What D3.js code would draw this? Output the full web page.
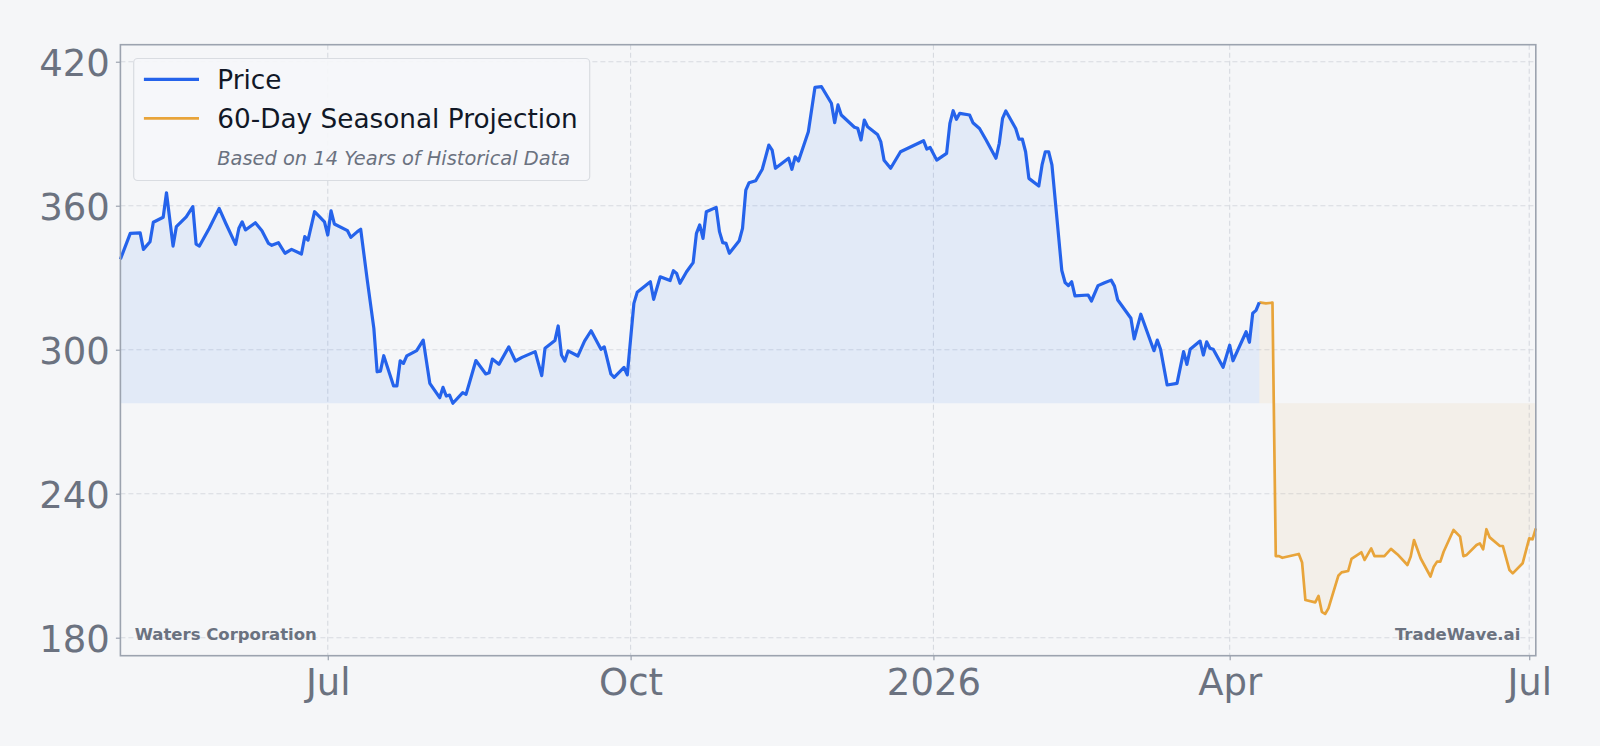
<!DOCTYPE html>
<html>
<head>
<meta charset="utf-8">
<script src="https://cdn.jsdelivr.net/npm/d3@7"></script>
<style>
  html, body { margin: 0; padding: 0; background: #f5f6f8; }
  svg { display: block; }
  text { font-family: "DejaVu Sans", sans-serif; }
</style>
</head>
<body>
<svg id="chart" width="1600" height="746"></svg>
<script>
// ---------- data ----------
const priceDates = [
  "2025-04-29","2025-05-02","2025-05-05","2025-05-06","2025-05-08","2025-05-09","2025-05-12","2025-05-13",
  "2025-05-15","2025-05-16","2025-05-19","2025-05-21","2025-05-22","2025-05-23","2025-05-26","2025-05-29",
  "2025-05-31","2025-06-03","2025-06-04","2025-06-05","2025-06-06","2025-06-09","2025-06-11","2025-06-13",
  "2025-06-14","2025-06-16","2025-06-18","2025-06-20","2025-06-23","2025-06-24","2025-06-25","2025-06-27",
  "2025-06-30","2025-07-01","2025-07-02","2025-07-03","2025-07-07","2025-07-08","2025-07-10","2025-07-11",
  "2025-07-13","2025-07-15","2025-07-16","2025-07-17","2025-07-18","2025-07-21","2025-07-22","2025-07-23",
  "2025-07-24","2025-07-25","2025-07-28","2025-07-30","2025-08-01","2025-08-04","2025-08-05","2025-08-06",
  "2025-08-07","2025-08-08","2025-08-11","2025-08-12","2025-08-13","2025-08-15","2025-08-18","2025-08-19",
  "2025-08-20","2025-08-22","2025-08-25","2025-08-27","2025-08-29","2025-09-02","2025-09-04","2025-09-05",
  "2025-09-08","2025-09-09","2025-09-10","2025-09-11","2025-09-12","2025-09-15","2025-09-17","2025-09-19",
  "2025-09-22","2025-09-23","2025-09-25","2025-09-26","2025-09-29","2025-09-30","2025-10-02","2025-10-03",
  "2025-10-07","2025-10-08","2025-10-10","2025-10-13","2025-10-14","2025-10-15","2025-10-16","2025-10-18",
  "2025-10-20","2025-10-21","2025-10-22","2025-10-23","2025-10-24","2025-10-27","2025-10-28","2025-10-29",
  "2025-10-30","2025-10-31","2025-11-03","2025-11-04","2025-11-05","2025-11-06","2025-11-08","2025-11-10",
  "2025-11-12","2025-11-13","2025-11-14","2025-11-18","2025-11-19","2025-11-20","2025-11-21","2025-11-24",
  "2025-11-26","2025-11-28","2025-12-01","2025-12-02","2025-12-03","2025-12-04","2025-12-08","2025-12-09",
  "2025-12-10","2025-12-11","2025-12-12","2025-12-15","2025-12-16","2025-12-17","2025-12-19","2025-12-22",
  "2025-12-29","2025-12-30","2025-12-31","2026-01-02","2026-01-05","2026-01-06","2026-01-07","2026-01-08",
  "2026-01-09","2026-01-12","2026-01-13","2026-01-15","2026-01-17","2026-01-20","2026-01-21","2026-01-22",
  "2026-01-23","2026-01-26","2026-01-27","2026-01-28","2026-01-29","2026-01-30","2026-02-02","2026-02-03",
  "2026-02-04","2026-02-05","2026-02-06","2026-02-09","2026-02-10","2026-02-11","2026-02-12","2026-02-13",
  "2026-02-17","2026-02-18","2026-02-20","2026-02-22","2026-02-24","2026-02-25","2026-02-26","2026-03-02",
  "2026-03-03","2026-03-05","2026-03-09","2026-03-10","2026-03-11","2026-03-13","2026-03-16","2026-03-18",
  "2026-03-19","2026-03-20","2026-03-23","2026-03-24","2026-03-25","2026-03-26","2026-03-27","2026-03-30",
  "2026-04-01","2026-04-02","2026-04-06","2026-04-07","2026-04-08","2026-04-09","2026-04-10"
];
const priceValues = [
  337.7,348.5,348.7,341.8,345.0,353.1,355.2,365.4,
  343.2,351.3,355.4,359.6,344.0,343.2,350.6,358.9,
  352.7,343.9,350.6,353.3,349.9,352.9,349.6,344.3,
  343.5,344.6,340.2,341.8,339.9,347.1,345.7,357.5,
  353.3,347.8,357.9,352.4,349.6,346.8,349.2,350.2,
  329.0,308.9,290.8,291.1,297.5,284.9,284.9,295.4,
  294.3,297.4,299.6,304.0,286.0,280.0,284.3,280.7,
  281.1,277.7,282.1,281.4,286.0,295.5,289.9,290.4,
  296.1,293.9,301.2,295.3,296.8,299.2,289.2,300.6,
  303.8,309.9,297.8,295.3,299.5,297.4,303.6,307.9,
  300.2,301.2,289.9,288.5,292.6,289.5,319.3,323.9,
  328.3,321.0,330.4,328.8,332.9,331.8,327.7,332.5,
  336.3,348.5,352.0,346.4,357.5,359.3,349.2,344.6,
  344.3,340.2,345.4,350.6,366.5,369.6,370.4,375.2,
  385.3,383.2,375.6,379.8,375.2,380.4,378.6,390.8,
  409.3,409.6,402.7,394.6,402.0,397.8,392.7,392.3,
  387.4,395.7,392.9,389.7,386.7,379.0,375.6,382.5,
  387.1,383.6,384.3,379.0,381.8,394.3,399.6,396.0,
  398.5,397.8,394.6,392.2,387.4,379.8,386.0,396.4,
  399.5,392.2,387.7,387.8,382.5,371.4,368.2,377.0,
  382.5,382.5,377.0,333.0,328.0,326.7,328.3,322.4,
  322.8,320.3,326.7,327.9,329.0,326.5,320.7,313.1,
  304.5,314.8,299.6,304.0,300.2,285.3,286.0,299.2,
  293.9,300.2,303.6,297.8,303.3,300.6,300.2,292.7,
  301.9,295.4,307.5,303.1,315.2,316.4,319.7
];
const projDates = [
  "2026-04-10","2026-04-12","2026-04-14","2026-04-15","2026-04-16","2026-04-17","2026-04-22","2026-04-23",
  "2026-04-24","2026-04-27","2026-04-28","2026-04-29","2026-04-30","2026-05-01","2026-05-04","2026-05-05",
  "2026-05-07","2026-05-08","2026-05-11","2026-05-12","2026-05-14","2026-05-15","2026-05-18","2026-05-20",
  "2026-05-22","2026-05-25","2026-05-26","2026-05-27","2026-05-29","2026-06-01","2026-06-02","2026-06-03",
  "2026-06-04","2026-06-05","2026-06-08","2026-06-10","2026-06-11","2026-06-12","2026-06-15","2026-06-16",
  "2026-06-17","2026-06-18","2026-06-19","2026-06-22","2026-06-23","2026-06-25","2026-06-26","2026-06-29",
  "2026-07-01","2026-07-02","2026-07-03"
];
const projValues = [
  319.7,319.3,319.6,214.0,214.0,213.3,214.9,211.3,
  195.7,194.7,197.4,190.8,189.9,192.2,205.8,207.2,
  207.8,212.8,215.6,212.4,217.2,214.0,214.0,217.0,
  214.7,210.3,213.8,220.7,213.1,205.5,209.6,211.7,
  211.7,215.8,224.9,222.1,214.0,214.5,218.6,219.3,
  216.8,225.2,221.8,218.3,218.2,208.2,206.8,211.0,
  221.4,221.0,225.6
];
const yTicks = [180, 240, 300, 360, 420];
const xTickDates = ["2025-07-01","2025-10-01","2026-01-01","2026-04-01","2026-07-01"];
const xTickLabels = ["Jul","Oct","2026","Apr","Jul"];
const seriesNames = ["Price", "60-Day Seasonal Projection"];
const legendNote = "Based on 14 Years of Historical Data";
const companyName = "Waters Corporation";
const brandName = "TradeWave.ai";

// ---------- setup ----------
const parse = d3.utcParse("%Y-%m-%d");
const price = priceDates.map((d, i) => ({ date: parse(d), value: priceValues[i] }));
const proj = projDates.map((d, i) => ({ date: parse(d), value: projValues[i] }));

const plot = { left: 120.4, right: 1535.8, top: 44.7, bottom: 655.7 };
const BLUE = "#2563eb", BLUEFILL = "#3b82f6", ORANGE = "#e8a43a", GRID = "#d7dae0", AXIS = "#9ca3af", TICK = "#6b7280";

const x = d3.scaleUtc()
  .domain([price[0].date, proj[proj.length - 1].date])
  .range([plot.left, plot.right]);
const y = d3.scaleLinear().domain([172.5, 427.1]).range([plot.bottom, plot.top]);

const baseline = d3.min(priceValues);

const svg = d3.select("#chart");
svg.append("rect").attr("width", 1600).attr("height", 746).attr("fill", "#f5f6f8");

// grid
const grid = svg.append("g");
grid.selectAll("line.h").data(yTicks).join("line")
  .attr("x1", plot.left).attr("x2", plot.right)
  .attr("y1", d => y(d)).attr("y2", d => y(d))
  .attr("stroke", GRID).attr("stroke-width", 1.1).attr("stroke-dasharray", "5,3");
grid.selectAll("line.v").data(xTickDates).join("line")
  .attr("x1", d => x(parse(d))).attr("x2", d => x(parse(d)))
  .attr("y1", plot.top).attr("y2", plot.bottom)
  .attr("stroke", GRID).attr("stroke-width", 1.1).attr("stroke-dasharray", "5,3");

// fills
const area = d3.area().x(d => x(d.date)).y0(y(baseline)).y1(d => y(d.value));
svg.append("path").datum(price).attr("d", area)
  .attr("fill", BLUEFILL).attr("fill-opacity", 0.1);
svg.append("path").datum(proj).attr("d", area)
  .attr("fill", ORANGE).attr("fill-opacity", 0.08);

// lines
const line = d3.line().x(d => x(d.date)).y(d => y(d.value));
svg.append("path").datum(proj).attr("d", line)
  .attr("fill", "none").attr("stroke", ORANGE).attr("stroke-width", 2.7)
  .attr("stroke-linejoin", "round");
svg.append("path").datum(price).attr("d", line)
  .attr("fill", "none").attr("stroke", BLUE).attr("stroke-width", 3.2)
  .attr("stroke-linejoin", "round");

// frame
svg.append("rect")
  .attr("x", plot.left).attr("y", plot.top)
  .attr("width", plot.right - plot.left).attr("height", plot.bottom - plot.top)
  .attr("fill", "none").attr("stroke", AXIS).attr("stroke-width", 1.6);

// axes
const yAxis = d3.axisLeft(y).tickValues(yTicks).tickSize(4.5).tickPadding(6);
const gy = svg.append("g").attr("transform", `translate(${plot.left},0)`).call(yAxis);
gy.select(".domain").remove();
gy.selectAll(".tick line").attr("stroke", AXIS).attr("stroke-width", 1.2);
gy.selectAll(".tick text").attr("fill", TICK).attr("font-size", 37)
  .attr("font-family", "DejaVu Sans").attr("dy", "0.36em");

const xAxis = d3.axisBottom(x).tickValues(xTickDates.map(parse))
  .tickFormat((d, i) => xTickLabels[i]).tickSize(4.5).tickPadding(8);
const gx = svg.append("g").attr("transform", `translate(0,${plot.bottom})`).call(xAxis);
gx.select(".domain").remove();
gx.selectAll(".tick line").attr("stroke", AXIS).attr("stroke-width", 1.2);
gx.selectAll(".tick text").attr("fill", TICK).attr("font-size", 37)
  .attr("font-family", "DejaVu Sans").attr("dy", "0.73em");

// legend
const lg = svg.append("g");
lg.append("rect").attr("x", 133.7).attr("y", 58.5).attr("width", 456).attr("height", 122)
  .attr("rx", 4).attr("fill", "#f6f7f9").attr("fill-opacity", 0.9)
  .attr("stroke", "#d9dce1").attr("stroke-width", 1.2);
const legendItems = [
  { name: seriesNames[0], color: BLUE, w: 3.2, y: 79.3 },
  { name: seriesNames[1], color: ORANGE, w: 2.7, y: 118.3 }
];
legendItems.forEach(it => {
  lg.append("line").attr("x1", 143.9).attr("x2", 199).attr("y1", it.y).attr("y2", it.y)
    .attr("stroke", it.color).attr("stroke-width", it.w);
  lg.append("text").attr("x", 217.3).attr("y", it.y + 9.8).text(it.name)
    .attr("font-size", 26.3).attr("fill", "#111827");
});
lg.append("text").attr("x", 217.3).attr("y", 165).text(legendNote)
  .attr("font-size", 19.4).attr("font-style", "italic").attr("fill", TICK);

// watermarks
svg.append("text").attr("x", 134.7).attr("y", 639.7).text(companyName)
  .attr("font-size", 16.5).attr("font-weight", "bold").attr("fill", TICK);
svg.append("text").attr("x", 1520.4).attr("y", 639.7).attr("text-anchor", "end").text(brandName)
  .attr("font-size", 16.5).attr("font-weight", "bold").attr("fill", TICK);
</script>
</body>
</html>
